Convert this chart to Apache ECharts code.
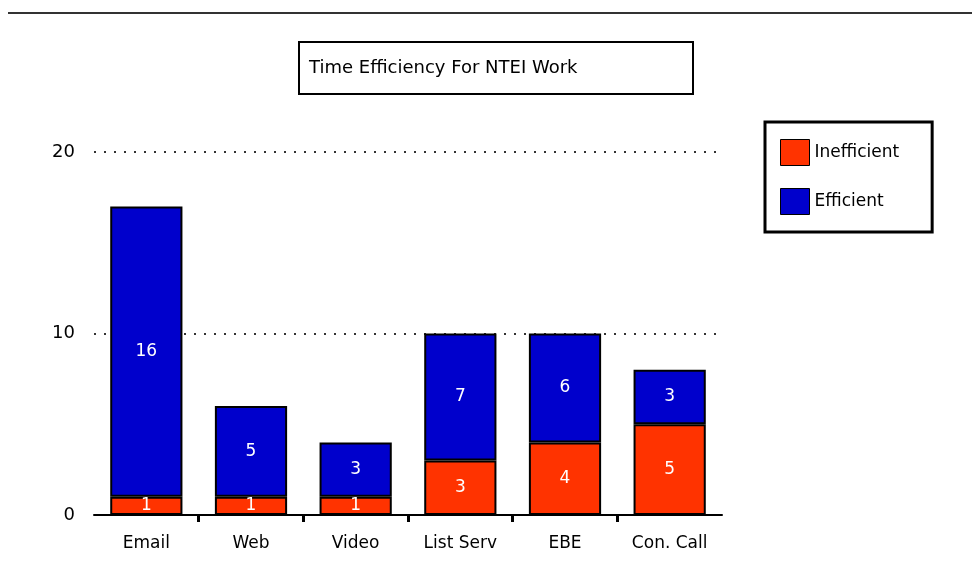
<!DOCTYPE html>
<html>
<head>
<meta charset="utf-8">
<script src="https://cdn.jsdelivr.net/npm/echarts@6/dist/echarts.min.js"></script>
<style>
  html, body { margin: 0; padding: 0; background: #fff; }
  #chart { width: 972px; height: 584px; }
</style>
</head>
<body>
<div id="chart"></div>
<script>
const categories = ['Email', 'Web', 'Video', 'List Serv', 'EBE', 'Con. Call'];
const inefficient = [1, 1, 1, 3, 4, 5];
const efficient = [16, 5, 3, 7, 6, 3];
const titleText = 'Time Efficiency For NTEI Work';

const RED = '#ff3300';
const BLUE = '#0000cc';
const FONT = 'DejaVu Sans';

const chart = echarts.init(document.getElementById('chart'), null, {renderer: 'canvas'});

const barLabel = {
    show: true,
    position: 'inside',
    color: '#fff',
    fontFamily: FONT,
    fontSize: 17,
};

chart.setOption({
    animation: false,
    backgroundColor: '#fff',
    title: {
        text: titleText,
        left: 299,
        top: 42,
        borderColor: '#000',
        borderWidth: 2,
        padding: [17, 116, 17, 10],
        textStyle: {
            fontFamily: FONT,
            fontSize: 18,
            fontWeight: 'normal',
            color: '#000',
        },
    },
    legend: {
        orient: 'vertical',
        left: 765,
        top: 122,
        data: ['Inefficient', 'Efficient'],
        icon: 'rect',
        borderColor: '#000',
        borderWidth: 3,
        padding: [17, 33, 17, 15],
        itemWidth: 29,
        itemHeight: 26,
        itemGap: 22,
        itemStyle: {borderColor: '#000', borderWidth: 1},
        textStyle: {
            fontFamily: FONT,
            fontSize: 17,
            color: '#000',
        },
    },
    grid: {left: 94, right: 250, top: 152, bottom: 69},
    xAxis: [{
        type: 'category',
        data: categories,
        axisLine: {lineStyle: {color: '#000', width: 2}},
        axisTick: {show: false},
        axisLabel: {
            color: '#000',
            fontFamily: FONT,
            fontSize: 17,
            margin: 20,
        },
    }, {
        // boundaries between categories, ticks only
        type: 'value',
        position: 'bottom',
        min: 0,
        max: categories.length,
        axisLine: {show: false},
        splitLine: {show: false},
        axisLabel: {show: false},
        axisTick: {
            show: true,
            length: 7,
            customValues: [1, 2, 3, 4, 5],
            lineStyle: {color: '#000', width: 3},
        },
    }],
    yAxis: {
        type: 'value',
        min: 0,
        max: 20,
        interval: 10,
        axisLine: {show: false},
        axisTick: {show: false},
        axisLabel: {
            color: '#000',
            fontFamily: FONT,
            fontSize: 18,
            margin: 19,
        },
        splitLine: {
            lineStyle: {color: '#333', width: 2, type: [2, 8]},
        },
    },
    series: [{
        name: 'Inefficient',
        type: 'bar',
        stack: 'total',
        barWidth: '69%',
        data: inefficient,
        itemStyle: {color: RED, borderColor: '#000', borderWidth: 2},
        label: barLabel,
    }, {
        name: 'Efficient',
        type: 'bar',
        stack: 'total',
        barWidth: '69%',
        data: efficient,
        itemStyle: {color: BLUE, borderColor: '#000', borderWidth: 2},
        label: barLabel,
    }],
    graphic: [{
        type: 'line',
        shape: {x1: 8, y1: 13, x2: 972, y2: 13},
        style: {stroke: '#333', lineWidth: 2},
    }],
});
</script>
</body>
</html>
